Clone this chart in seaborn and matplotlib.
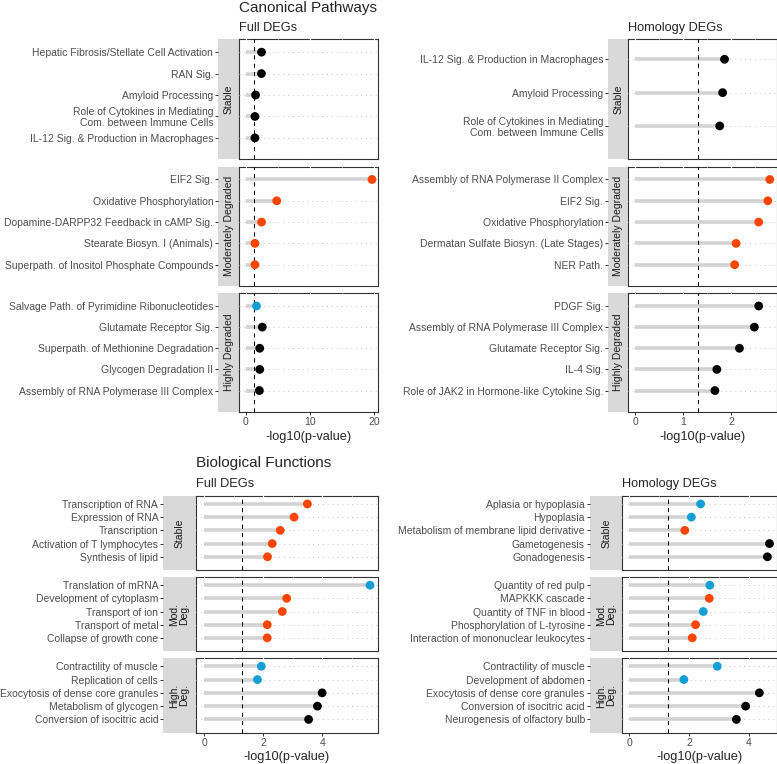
import numpy as np
import pandas as pd
import matplotlib
matplotlib.use("Agg")
import matplotlib.pyplot as plt
import seaborn as sns
from matplotlib.ticker import MultipleLocator

# ---------------- data ----------------
# Canonical pathways, full DEGs
cp_full_term = [
    "Hepatic Fibrosis/Stellate Cell Activation", "RAN Sig.", "Amyloid Processing",
    "Role of Cytokines in Mediating\nCom. between Immune Cells", "IL-12 Sig. & Production in Macrophages",
    "EIF2 Sig.", "Oxidative Phosphorylation", "Dopamine-DARPP32 Feedback in cAMP Sig.",
    "Stearate Biosyn. I (Animals)", "Superpath. of Inositol Phosphate Compounds",
    "Salvage Path. of Pyrimidine Ribonucleotides", "Glutamate Receptor Sig.",
    "Superpath. of Methionine Degradation", "Glycogen Degradation II",
    "Assembly of RNA Polymerase III Complex",
]
cp_full_logp = [2.48, 2.46, 1.55, 1.45, 1.45,
                19.7, 4.85, 2.48, 1.45, 1.45,
                1.7, 2.6, 2.2, 2.2, 2.15]
cp_full_state = ["Stable", "Stable", "Stable", "Stable", "Stable",
                 "Moderately Degraded", "Moderately Degraded", "Moderately Degraded",
                 "Moderately Degraded", "Moderately Degraded",
                 "Highly Degraded", "Highly Degraded", "Highly Degraded",
                 "Highly Degraded", "Highly Degraded"]
cp_full_dir = ["none", "none", "none", "none", "none",
               "up", "up", "up", "up", "up",
               "down", "none", "none", "none", "none"]

# Canonical pathways, homology DEGs
cp_hom_term = [
    "IL-12 Sig. & Production in Macrophages", "Amyloid Processing",
    "Role of Cytokines in Mediating\nCom. between Immune Cells",
    "Assembly of RNA Polymerase II Complex", "EIF2 Sig.", "Oxidative Phosphorylation",
    "Dermatan Sulfate Biosyn. (Late Stages)", "NER Path.",
    "PDGF Sig.", "Assembly of RNA Polymerase III Complex", "Glutamate Receptor Sig.",
    "IL-4 Sig.", "Role of JAK2 in Hormone-like Cytokine Sig.",
]
cp_hom_logp = [1.86, 1.82, 1.76,
               2.80, 2.76, 2.57, 2.10, 2.07,
               2.57, 2.48, 2.17, 1.70, 1.66]
cp_hom_state = ["Stable", "Stable", "Stable",
                "Moderately Degraded", "Moderately Degraded", "Moderately Degraded",
                "Moderately Degraded", "Moderately Degraded",
                "Highly Degraded", "Highly Degraded", "Highly Degraded",
                "Highly Degraded", "Highly Degraded"]
cp_hom_dir = ["none", "none", "none",
              "up", "up", "up", "up", "up",
              "none", "none", "none", "none", "none"]

# Biological functions, full DEGs
bf_full_term = [
    "Transcription of RNA", "Expression of RNA", "Transcription",
    "Activation of T lymphocytes", "Synthesis of lipid",
    "Translation of mRNA", "Development of cytoplasm", "Transport of ion",
    "Transport of metal", "Collapse of growth cone",
    "Contractility of muscle", "Replication of cells", "Exocytosis of dense core granules",
    "Metabolism of glycogen", "Conversion of isocitric acid",
]
bf_full_logp = [3.50, 3.05, 2.58, 2.31, 2.15,
                5.62, 2.80, 2.65, 2.14, 2.14,
                1.94, 1.81, 4.00, 3.84, 3.54]
bf_full_state = ["Stable", "Stable", "Stable", "Stable", "Stable",
                 "Mod.\nDeg.", "Mod.\nDeg.", "Mod.\nDeg.", "Mod.\nDeg.", "Mod.\nDeg.",
                 "High.\nDeg.", "High.\nDeg.", "High.\nDeg.", "High.\nDeg.", "High.\nDeg."]
bf_full_dir = ["up", "up", "up", "up", "up",
               "down", "up", "up", "up", "up",
               "down", "down", "none", "none", "none"]

# Biological functions, homology DEGs
bf_hom_term = [
    "Aplasia or hypoplasia", "Hypoplasia", "Metabolism of membrane lipid derivative",
    "Gametogenesis", "Gonadogenesis",
    "Quantity of red pulp", "MAPKKK cascade", "Quantity of TNF in blood",
    "Phosphorylation of L-tyrosine", "Interaction of mononuclear leukocytes",
    "Contractility of muscle", "Development of abdomen", "Exocytosis of dense core granules",
    "Conversion of isocitric acid", "Neurogenesis of olfactory bulb",
]
bf_hom_logp = [2.39, 2.08, 1.86, 4.70, 4.63,
               2.70, 2.68, 2.48, 2.22, 2.11,
               2.95, 1.83, 4.36, 3.90, 3.59]
bf_hom_state = bf_full_state
bf_hom_dir = ["down", "down", "up", "none", "none",
              "down", "up", "down", "up", "up",
              "down", "down", "none", "none", "none"]

cp_levels = ["Stable", "Moderately Degraded", "Highly Degraded"]
bf_levels = ["Stable", "Mod.\nDeg.", "High.\nDeg."]
dir_colors = {"none": "#000000", "up": "#FF4500", "down": "#139FD6"}
cutoff = 1.3  # -log10(0.05)

# ---------------- style ----------------
sns.set_style("white")
plt.rcParams["font.family"] = ["Liberation Sans", "DejaVu Sans"]

W, H = 777, 764
fig = plt.figure(figsize=(W / 100, H / 100), dpi=100)


def box(x0, x1, y0, y1):
    return [x0 / W, 1 - y1 / H, (x1 - x0) / W, (y1 - y0) / H]


def draw_panel(term, logp, state, dirs, levels, strip_x, panel_x, rows_y, step):
    df = pd.DataFrame({"term": term, "logp": logp, "state": state, "dir": dirs})
    xmax = df["logp"].max()
    pad = 0.05 * xmax
    for i, (lev, (y0, y1)) in enumerate(zip(levels, rows_y)):
        sub = df[df["state"] == lev].reset_index(drop=True)
        sub["pos"] = np.arange(len(sub))
        n = len(sub)

        sax = fig.add_axes(box(strip_x[0], strip_x[1], y0, y1))
        ax = fig.add_axes(box(panel_x[0], panel_x[1], y0, y1), sharey=sax)

        # strip on the left
        sax.set_facecolor("#D9D9D9")
        for sp in sax.spines.values():
            sp.set_visible(False)
        sax.set_xticks([])
        sax.set_yticks(sub["pos"], sub["term"])
        sax.tick_params(axis="y", left=True, length=2.2, width=0.7, color="#333333",
                        pad=1.5, labelsize=7.5, labelcolor="#4D4D4D")
        sax.text(0.5, 0.5, lev, rotation=90, ha="center", va="center",
                 transform=sax.transAxes, fontsize=7.5, color="#1A1A1A",
                 multialignment="center", linespacing=1.0)

        # lollipops
        ax.hlines(sub["pos"], 0, sub["logp"], color="#D3D3D3", lw=2.6, zorder=2)
        ax.axvline(cutoff, color="black", lw=0.75, ls=(0, (4, 4)), zorder=3)
        sns.scatterplot(data=sub, x="logp", y="pos", hue="dir", palette=dir_colors,
                        s=40, linewidth=0, legend=False, ax=ax, zorder=4)

        ax.set_xlim(-pad, xmax + pad)
        sax.set_ylim(n, -0.6)
        ax.set_xlabel("")
        ax.set_ylabel("")
        ax.xaxis.set_major_locator(MultipleLocator(step))
        ax.xaxis.set_minor_locator(MultipleLocator(step / 2))
        ax.set_axisbelow(True)
        ax.grid(which="major", axis="x", color="white", lw=0.9)
        ax.grid(which="minor", axis="x", color="white", lw=0.5)
        ax.grid(which="major", axis="y", color="#C4C4C4", lw=0.7, ls=(0, (1, 4)))
        ax.tick_params(axis="y", left=False, labelleft=False)
        ax.tick_params(axis="x", which="minor", bottom=False)
        for sp in ax.spines.values():
            sp.set_color("#333333")
            sp.set_linewidth(0.8)
            sp.set_zorder(0.3)
        if i == len(levels) - 1:
            ax.tick_params(axis="x", bottom=True, length=2.2, width=0.7, color="#333333",
                           pad=1.5, labelsize=7.5, labelcolor="#4D4D4D")
        else:
            ax.tick_params(axis="x", bottom=False, labelbottom=False)

        for lab in sax.get_yticklabels():
            lab.set_linespacing(1.1)


top_rows = [(39.3, 159.3), (166.7, 286), (293.3, 411.7)]
bot_rows = [(496, 570), (577.3, 651), (658.3, 732.7)]

draw_panel(cp_full_term, cp_full_logp, cp_full_state, cp_full_dir, cp_levels,
           (218.3, 239.3), (239.3, 378.3), top_rows, 10)
draw_panel(cp_hom_term, cp_hom_logp, cp_hom_state, cp_hom_dir, cp_levels,
           (608.3, 628.3), (628.3, 776.5), top_rows, 1)
draw_panel(bf_full_term, bf_full_logp, bf_full_state, bf_full_dir, bf_levels,
           (163.3, 195.7), (195.7, 378.3), bot_rows, 2)
draw_panel(bf_hom_term, bf_hom_logp, bf_hom_state, bf_hom_dir, bf_levels,
           (590, 622.3), (622.3, 776.5), bot_rows, 2)

# titles
fig.text(239.3 / W, 1 - 11.7 / H, "Canonical Pathways", fontsize=11, va="baseline", ha="left")
fig.text(239.3 / W, 1 - 30.7 / H, "Full DEGs", fontsize=9.2, va="baseline", ha="left")
fig.text(628.3 / W, 1 - 30.7 / H, "Homology DEGs", fontsize=9.2, va="baseline", ha="left")
fig.text(195.7 / W, 1 - 467.5 / H, "Biological Functions", fontsize=11, va="baseline", ha="left")
fig.text(195.7 / W, 1 - 486.7 / H, "Full DEGs", fontsize=9.2, va="baseline", ha="left")
fig.text(622.3 / W, 1 - 486.7 / H, "Homology DEGs", fontsize=9.2, va="baseline", ha="left")

# x axis titles
for cx, cy in [((239.3 + 378.3) / 2, 437), ((628.3 + 776.5) / 2, 437),
               ((195.7 + 378.3) / 2, 757), ((622.3 + 776.5) / 2, 757)]:
    fig.text(cx / W, 1 - cy / H, "-log10(p-value)", fontsize=9.2, ha="center", va="center")

fig.savefig("out.png", dpi=100)
